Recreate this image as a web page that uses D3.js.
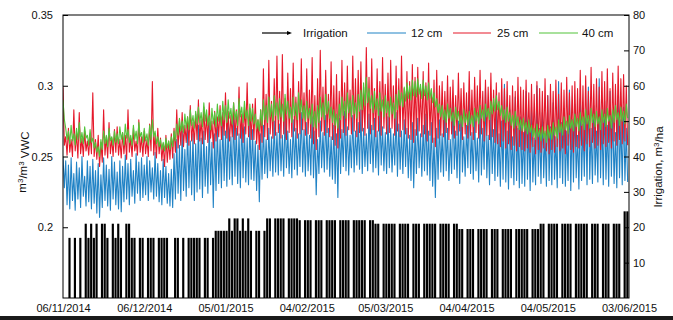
<!DOCTYPE html>
<html>
<head>
<meta charset="utf-8">
<script src="https://cdn.jsdelivr.net/npm/d3@7"></script>
<style>
  body { margin: 0; background: #fff; }
  text { font-family: "Liberation Sans", Arial, sans-serif; }
</style>
</head>
<body>
<div id="canvas"></div>
<script>
// soil moisture (VWC) at three depths, two readings per day from 06/11/2014
const startDate = new Date(Date.UTC(2014, 10, 6));
const endDate = new Date(Date.UTC(2015, 5, 3));

const vwc12 = [
  0.250,0.228,0.247,0.216,0.244,0.213,0.249,0.219,0.238,0.212,0.246,0.220,0.242,0.214,0.250,0.222,0.236,0.215,0.247,0.218,
  0.243,0.213,0.248,0.217,0.240,0.210,0.245,0.207,0.237,0.214,0.249,0.219,0.244,0.215,0.241,0.212,0.250,0.220,0.246,0.216,
  0.239,0.213,0.247,0.211,0.243,0.218,0.251,0.220,0.245,0.216,0.248,0.222,0.240,0.217,0.252,0.224,0.246,0.219,0.249,0.221,
  0.244,0.223,0.250,0.219,0.247,0.225,0.242,0.220,0.253,0.222,0.245,0.218,0.240,0.216,0.248,0.221,0.243,0.217,0.238,0.215,
  0.241,0.214,0.252,0.220,0.262,0.224,0.258,0.219,0.268,0.226,0.255,0.222,0.270,0.228,0.261,0.223,0.266,0.219,0.259,0.225,
  0.272,0.227,0.263,0.221,0.268,0.229,0.257,0.224,0.274,0.230,0.260,0.214,0.266,0.226,0.271,0.231,0.262,0.228,0.276,0.233,
  0.268,0.229,0.275,0.234,0.264,0.230,0.279,0.236,0.270,0.231,0.266,0.228,0.277,0.235,0.271,0.232,0.263,0.230,0.274,0.234,
  0.269,0.233,0.261,0.226,0.258,0.218,0.266,0.234,0.272,0.238,0.262,0.235,0.270,0.240,0.264,0.236,0.275,0.239,0.267,0.237,
  0.273,0.240,0.265,0.236,0.280,0.242,0.268,0.238,0.262,0.235,0.276,0.241,0.270,0.237,0.266,0.243,0.281,0.239,0.269,0.236,
  0.274,0.240,0.265,0.237,0.278,0.235,0.268,0.223,0.262,0.238,0.275,0.242,0.267,0.239,0.279,0.241,0.270,0.236,0.264,0.234,
  0.272,0.231,0.266,0.221,0.277,0.238,0.269,0.243,0.282,0.240,0.271,0.237,0.265,0.242,0.279,0.239,0.268,0.244,0.274,0.241,
  0.283,0.238,0.270,0.243,0.266,0.240,0.280,0.245,0.272,0.239,0.277,0.242,0.268,0.237,0.284,0.244,0.271,0.240,0.267,0.238,
  0.278,0.242,0.270,0.239,0.266,0.244,0.281,0.236,0.273,0.241,0.268,0.238,0.276,0.243,0.270,0.235,0.265,0.233,0.274,0.228,
  0.269,0.238,0.277,0.242,0.266,0.236,0.272,0.240,0.280,0.237,0.268,0.233,0.274,0.229,0.263,0.221,0.270,0.234,0.276,0.239,
  0.266,0.236,0.284,0.240,0.270,0.233,0.262,0.238,0.291,0.241,0.268,0.235,0.275,0.231,0.288,0.239,0.264,0.236,0.272,0.242,
  0.296,0.238,0.267,0.234,0.279,0.240,0.263,0.232,0.286,0.237,0.270,0.241,0.298,0.235,0.265,0.230,0.281,0.238,0.269,0.233,
  0.290,0.236,0.266,0.229,0.275,0.234,0.301,0.232,0.268,0.227,0.283,0.235,0.264,0.230,0.292,0.233,0.270,0.228,0.278,0.231,
  0.267,0.229,0.296,0.234,0.272,0.226,0.285,0.232,0.263,0.230,0.300,0.236,0.270,0.231,0.281,0.235,0.266,0.229,0.293,0.233,
  0.271,0.230,0.288,0.234,0.264,0.228,0.303,0.235,0.274,0.231,0.284,0.229,0.268,0.233,0.297,0.226,0.276,0.232,0.287,0.235,
  0.265,0.227,0.291,0.233,0.273,0.236,0.282,0.230,0.299,0.234,0.270,0.231,0.286,0.237,0.268,0.232,0.305,0.235,0.278,0.230,
  0.289,0.234,0.272,0.229,0.296,0.236,0.281,0.231,0.267,0.228,0.293,0.235,0.276,0.230,0.285,0.233,0.270,0.232
];

const vwc25 = [
  0.299,0.258,0.264,0.251,0.270,0.253,0.262,0.250,0.283,0.254,0.266,0.249,0.281,0.252,0.263,0.250,0.268,0.254,0.261,0.251,
  0.266,0.252,0.295,0.250,0.262,0.248,0.265,0.243,0.260,0.246,0.283,0.251,0.264,0.249,0.274,0.252,0.263,0.250,0.269,0.253,
  0.271,0.251,0.262,0.249,0.267,0.252,0.265,0.248,0.283,0.253,0.263,0.250,0.270,0.254,0.261,0.251,0.276,0.253,0.264,0.250,
  0.268,0.252,0.262,0.250,0.273,0.254,0.303,0.251,0.266,0.249,0.270,0.252,0.263,0.247,0.259,0.243,0.265,0.246,0.261,0.248,
  0.266,0.249,0.270,0.253,0.283,0.256,0.275,0.258,0.281,0.257,0.272,0.260,0.278,0.258,0.286,0.261,0.274,0.259,0.280,0.262,
  0.290,0.261,0.276,0.259,0.285,0.262,0.279,0.260,0.288,0.263,0.275,0.256,0.282,0.261,0.278,0.264,0.286,0.262,0.281,0.265,
  0.295,0.263,0.282,0.261,0.279,0.264,0.288,0.262,0.283,0.265,0.299,0.263,0.280,0.260,0.285,0.266,0.302,0.264,0.284,0.262,
  0.287,0.262,0.291,0.259,0.276,0.255,0.283,0.260,0.312,0.264,0.294,0.262,0.318,0.266,0.289,0.263,0.305,0.265,0.321,0.267,
  0.296,0.263,0.322,0.266,0.291,0.262,0.309,0.267,0.298,0.264,0.316,0.268,0.292,0.263,0.303,0.266,0.319,0.269,0.295,0.265,
  0.312,0.266,0.297,0.263,0.320,0.259,0.293,0.255,0.305,0.264,0.325,0.268,0.299,0.265,0.311,0.267,0.294,0.264,0.317,0.262,
  0.300,0.258,0.308,0.256,0.296,0.263,0.318,0.267,0.302,0.265,0.314,0.269,0.297,0.266,0.321,0.268,0.305,0.264,0.311,0.267,
  0.317,0.268,0.299,0.265,0.327,0.270,0.306,0.266,0.319,0.269,0.298,0.264,0.312,0.268,0.303,0.265,0.320,0.270,0.301,0.266,
  0.309,0.267,0.318,0.270,0.300,0.265,0.314,0.268,0.305,0.264,0.321,0.269,0.298,0.266,0.310,0.263,0.303,0.262,0.315,0.260,
  0.306,0.265,0.313,0.268,0.299,0.264,0.310,0.266,0.302,0.261,0.316,0.265,0.297,0.260,0.304,0.257,0.311,0.263,0.300,0.265,
  0.303,0.264,0.296,0.267,0.307,0.262,0.299,0.266,0.304,0.263,0.293,0.265,0.309,0.268,0.298,0.262,0.302,0.266,0.295,0.263,
  0.310,0.265,0.297,0.262,0.306,0.267,0.300,0.263,0.311,0.266,0.296,0.261,0.304,0.265,0.299,0.262,0.309,0.264,0.297,0.260,
  0.302,0.259,0.295,0.257,0.305,0.261,0.298,0.256,0.303,0.259,0.293,0.255,0.300,0.258,0.296,0.254,0.306,0.257,0.299,0.255,
  0.297,0.254,0.304,0.256,0.295,0.253,0.301,0.257,0.294,0.252,0.303,0.255,0.298,0.253,0.296,0.256,0.305,0.254,0.293,0.252,
  0.301,0.255,0.296,0.253,0.304,0.257,0.294,0.254,0.302,0.256,0.297,0.252,0.306,0.258,0.295,0.255,0.300,0.253,0.303,0.257,
  0.298,0.256,0.311,0.258,0.300,0.254,0.307,0.259,0.296,0.257,0.313,0.260,0.301,0.256,0.305,0.258,0.299,0.255,0.310,0.259,
  0.303,0.257,0.312,0.260,0.298,0.256,0.309,0.261,0.301,0.258,0.314,0.262,0.305,0.259,0.308,0.261,0.300,0.258
];

const vwc40 = [
  0.290,0.276,0.270,0.262,0.268,0.259,0.272,0.261,0.266,0.258,0.270,0.262,0.274,0.260,0.267,0.259,0.271,0.263,0.265,0.258,
  0.269,0.260,0.263,0.256,0.260,0.253,0.257,0.250,0.262,0.255,0.268,0.259,0.265,0.257,0.270,0.261,0.264,0.258,0.268,0.260,
  0.266,0.259,0.271,0.262,0.267,0.258,0.273,0.263,0.269,0.260,0.265,0.258,0.272,0.262,0.268,0.259,0.274,0.264,0.267,0.260,
  0.270,0.261,0.266,0.258,0.272,0.262,0.276,0.264,0.268,0.259,0.264,0.257,0.262,0.255,0.260,0.254,0.263,0.256,0.261,0.255,
  0.264,0.257,0.268,0.261,0.273,0.265,0.277,0.268,0.275,0.267,0.280,0.270,0.278,0.269,0.283,0.272,0.279,0.270,0.282,0.273,
  0.285,0.274,0.281,0.271,0.288,0.275,0.283,0.272,0.279,0.269,0.284,0.273,0.281,0.271,0.287,0.275,0.283,0.272,0.289,0.276,
  0.286,0.274,0.290,0.277,0.284,0.273,0.288,0.276,0.282,0.272,0.291,0.278,0.285,0.274,0.289,0.277,0.283,0.272,0.287,0.275,
  0.284,0.273,0.280,0.270,0.276,0.268,0.283,0.272,0.290,0.276,0.286,0.274,0.292,0.278,0.287,0.275,0.293,0.279,0.288,0.276,
  0.291,0.278,0.287,0.275,0.294,0.280,0.289,0.277,0.285,0.274,0.292,0.279,0.288,0.276,0.295,0.281,0.290,0.277,0.286,0.275,
  0.289,0.277,0.284,0.273,0.287,0.271,0.282,0.270,0.286,0.274,0.292,0.278,0.288,0.276,0.294,0.280,0.289,0.277,0.285,0.274,
  0.283,0.272,0.280,0.270,0.287,0.276,0.292,0.279,0.289,0.277,0.295,0.281,0.290,0.278,0.293,0.280,0.288,0.277,0.294,0.282,
  0.297,0.283,0.302,0.286,0.306,0.288,0.298,0.284,0.293,0.281,0.296,0.283,0.291,0.279,0.295,0.282,0.290,0.278,0.293,0.281,
  0.289,0.278,0.292,0.280,0.288,0.277,0.294,0.283,0.297,0.286,0.295,0.285,0.299,0.289,0.302,0.291,0.300,0.290,0.304,0.293,
  0.303,0.292,0.305,0.294,0.301,0.291,0.304,0.293,0.300,0.290,0.302,0.291,0.298,0.288,0.295,0.285,0.291,0.281,0.287,0.278,
  0.286,0.276,0.283,0.274,0.287,0.277,0.284,0.275,0.281,0.272,0.285,0.276,0.282,0.273,0.279,0.271,0.283,0.274,0.280,0.272,
  0.282,0.273,0.279,0.271,0.284,0.275,0.281,0.273,0.286,0.277,0.283,0.275,0.287,0.278,0.284,0.276,0.289,0.280,0.291,0.282,
  0.293,0.283,0.289,0.279,0.286,0.276,0.283,0.274,0.285,0.275,0.281,0.272,0.279,0.270,0.282,0.272,0.278,0.269,0.276,0.268,
  0.277,0.268,0.274,0.266,0.276,0.267,0.272,0.264,0.270,0.262,0.273,0.264,0.269,0.261,0.271,0.263,0.268,0.260,0.272,0.263,
  0.270,0.262,0.274,0.265,0.271,0.263,0.276,0.267,0.273,0.265,0.278,0.269,0.275,0.266,0.279,0.270,0.276,0.268,0.280,0.271,
  0.277,0.268,0.281,0.272,0.278,0.269,0.283,0.273,0.279,0.270,0.284,0.274,0.280,0.271,0.282,0.273,0.278,0.269,0.283,0.274,
  0.280,0.271,0.284,0.275,0.279,0.270,0.283,0.274,0.286,0.276,0.281,0.272,0.285,0.275,0.282,0.273,0.287,0.277
];

// daily irrigation, m3/ha (0 = no irrigation that day)
const irrigation = [
  0,0,17,0,17,0,17,0,21,17,
  21,17,21,0,21,21,17,0,21,17,
  21,17,0,21,21,17,17,0,17,17,
  0,17,17,17,0,17,17,17,17,0,
  0,17,17,0,17,0,17,17,17,17,
  17,0,17,17,0,17,19,19,19,19,
  19,22.5,19,22.5,22.5,19,22.5,19,22.5,19,
  0,19,19,0,19,22.5,22.5,0,22.5,22.5,
  22.5,22.5,0,22.5,22.5,22.5,22.5,22,0,22,
  22,22,0,22,22,22,0,22,22,22,
  22,0,22,22,22,22,0,22,22,22,
  22,22,0,22,22,21,21,0,21,21,
  21,21,21,0,21,21,21,21,0,21,
  21,21,0,21,21,21,21,21,0,21,
  21,21,21,0,21,21,19.5,19.5,0,19.5,
  19.5,19.5,0,19.5,19.5,19.5,19.5,0,19.5,19.5,
  19.5,0,19.5,19.5,19.5,19.5,0,19.5,19.5,19.5,
  19.5,19.5,0,19.5,19.5,19.5,21,21,0,21,
  21,21,21,0,21,21,21,21,0,21,
  21,21,21,21,0,21,21,21,0,21,
  21,21,0,21,21,21,0,24.5,24.5
];

const tickDates = ["2014-11-06","2014-12-06","2015-01-05","2015-02-04","2015-03-05","2015-04-04","2015-05-04","2015-06-03"];
const vwcTicks = [0.2, 0.25, 0.3, 0.35];
const irrTicks = [10, 20, 30, 40, 50, 60, 70, 80];

const series = [
  {name: "12 cm", values: vwc12, color: "#2183c6"},
  {name: "25 cm", values: vwc25, color: "#e5192b"},
  {name: "40 cm", values: vwc40, color: "#52c43a"}
];

const W = 673, H = 320;
const margin = {top: 15, right: 44, bottom: 22, left: 63},
    width = W - margin.left - margin.right,
    height = H - margin.top - margin.bottom;

const svg = d3.select("#canvas")
    .append("svg")
    .attr("width", W)
    .attr("height", H);

const g = svg.append("g")
    .attr("transform", "translate(" + margin.left + "," + margin.top + ")");

const dayMs = 24 * 3600 * 1000;
const x = d3.scaleUtc().domain([startDate, endDate]).range([0, width]);
const y = d3.scaleLinear().domain([0.15, 0.35]).range([height, 0]);
const yIrr = d3.scaleLinear().domain([0, 80]).range([height, 0]);

g.append("clipPath").attr("id", "plot")
    .append("rect").attr("width", width).attr("height", height);

// irrigation bars
const barW = x(new Date(startDate.getTime() + dayMs)) - x(startDate);
g.append("g")
    .attr("clip-path", "url(#plot)")
    .selectAll("rect")
    .data(irrigation.map((v, i) => ({day: i, v: v})).filter(d => d.v > 0))
    .enter()
    .append("rect")
    .attr("x", d => x(new Date(startDate.getTime() + d.day * dayMs)))
    .attr("y", d => yIrr(d.v))
    .attr("width", barW - 0.55)
    .attr("height", d => yIrr(0) - yIrr(d.v))
    .style("fill", "#000");

// soil moisture lines
const line = d3.line()
    .x((d, i) => x(new Date(startDate.getTime() + i * dayMs / 2)))
    .y(d => y(d));

series.forEach(function(s) {
    g.append("path")
        .attr("clip-path", "url(#plot)")
        .attr("d", line(s.values))
        .style("fill", "none")
        .style("stroke", s.color)
        .style("stroke-width", 1.1)
        .style("stroke-linejoin", "round");
});

// frame
g.append("rect")
    .attr("width", width)
    .attr("height", height)
    .style("fill", "none")
    .style("stroke", "#000")
    .style("stroke-width", 1);

// axes
const fmt = d3.utcFormat("%d/%m/%Y");
const xAxis = g.append("g")
    .attr("transform", "translate(0," + height + ")")
    .call(d3.axisBottom(x)
        .tickValues(tickDates.map(s => new Date(s + "T00:00:00Z")))
        .tickSize(0).tickPadding(6)
        .tickFormat(fmt));

const yAxis = g.append("g")
    .call(d3.axisLeft(y).tickValues(vwcTicks).tickSize(-5).tickPadding(10)
        .tickFormat(d => String(d)));

const yAxisR = g.append("g")
    .attr("transform", "translate(" + width + ",0)")
    .call(d3.axisRight(yIrr).tickValues(irrTicks).tickSize(-5).tickPadding(4));

[xAxis, yAxis, yAxisR].forEach(function(a) {
    a.select(".domain").remove();
    a.selectAll("text").style("font-size", "11px").style("fill", "#111")
        .style("font-family", "'Liberation Sans', Arial, sans-serif");
    a.selectAll("line").style("stroke", "#000");
});

// axis titles
const leftTitle = svg.append("text")
    .attr("transform", "translate(26," + 162 + ") rotate(-90)")
    .attr("text-anchor", "middle")
    .style("font-size", "11.5px")
    .style("fill", "#111");
leftTitle.append("tspan").text("m");
leftTitle.append("tspan").attr("dy", "-0.4em").style("font-size", "8px").text("3");
leftTitle.append("tspan").attr("dy", "0.4em").text("/m");
leftTitle.append("tspan").attr("dy", "-0.4em").style("font-size", "8px").text("3");
leftTitle.append("tspan").attr("dy", "0.4em").text(" VWC");

const rightTitle = svg.append("text")
    .attr("transform", "translate(662," + 167 + ") rotate(-90)")
    .attr("text-anchor", "middle")
    .style("font-size", "11.5px")
    .style("fill", "#111");
rightTitle.append("tspan").text("Irrigation, m");
rightTitle.append("tspan").attr("dy", "-0.4em").style("font-size", "8px").text("3");
rightTitle.append("tspan").attr("dy", "0.4em").text("/ha");

// legend
const legendItems = [
    {name: "Irrigation", color: "#000", x0: 262, x1: 290, tx: 303},
    {name: "12 cm", color: series[0].color, x0: 367, x1: 406, tx: 411},
    {name: "25 cm", color: series[1].color, x0: 453, x1: 491, tx: 497},
    {name: "40 cm", color: series[2].color, x0: 539, x1: 578, tx: 582}
];
const legend = svg.append("g");
legendItems.forEach(function(it) {
    legend.append("line")
        .attr("x1", it.x0).attr("x2", it.x1)
        .attr("y1", 33).attr("y2", 33)
        .style("stroke", it.color).style("stroke-width", 1.2);
    legend.append("text")
        .attr("x", it.tx).attr("y", 37)
        .style("font-size", "11.5px")
        .style("fill", "#111")
        .text(it.name);
});
legend.append("path")
    .attr("d", "M287,31 L292,33 L287,35 Z")
    .style("fill", "#000");

// dark strip at the bottom of the picture
svg.append("rect")
    .attr("x", 0).attr("y", 316)
    .attr("width", W).attr("height", 4)
    .style("fill", "#1a1a1a");
</script>
</body>
</html>
